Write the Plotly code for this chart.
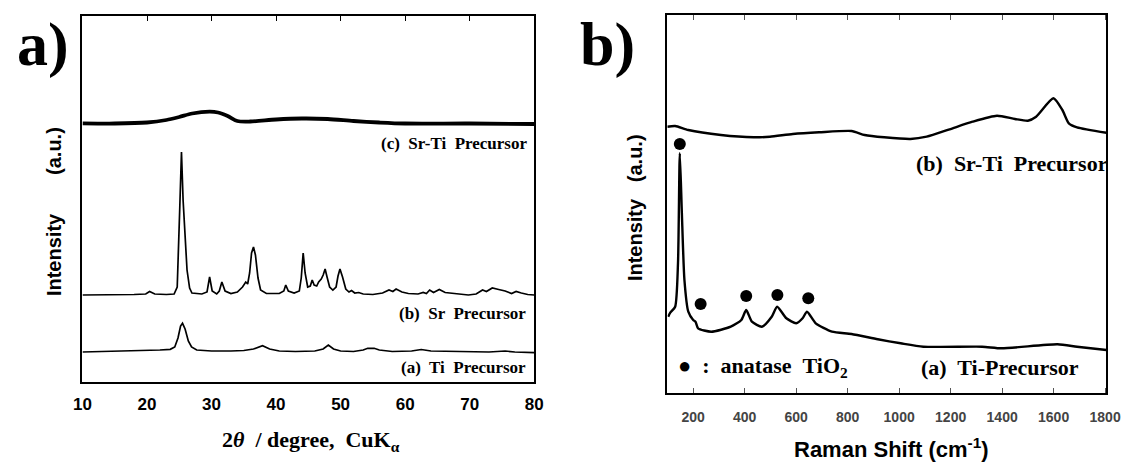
import plotly.graph_objects as go

W, H = 1140, 462

# ---------------- Panel a) XRD data (2theta in degree, intensity a.u.) ----------------
ti_2theta = [10, 14, 18, 22, 23.6, 24.3, 24.8, 25.2, 25.5, 25.9, 26.4, 26.9, 27.7, 30, 33, 35,
             36.5, 37.9, 39, 40.5, 43, 46, 47.3, 48.1, 48.9, 50, 52, 53.5, 54.2, 55.2, 56, 58,
             61, 62.5, 64, 67, 70, 73, 75.5, 77, 80]
ti_int = [31, 31.5, 32, 33, 33.7, 36, 45, 57, 59.7, 54, 42, 36, 33, 32, 32, 32.5,
          34, 37.3, 34, 32, 31.5, 32, 34, 38, 34, 32, 31.5, 33, 34.7, 34.7, 33, 31.5,
          32, 33.5, 32, 31.5, 31.5, 31, 32, 31, 30.3]

sr_2theta = [10, 14, 18, 19.8, 20.4, 21.2, 23, 24.2, 24.68, 25.08, 25.34, 25.59, 25.84, 26.2,
             26.6, 26.96, 28.5, 29.3, 29.7, 30.1, 30.8, 31.2, 31.6, 32.1, 33, 34, 34.8, 35.3,
             35.6, 35.9, 36.2, 36.5, 36.8, 37.2, 37.6, 38.5, 40.5, 41.2, 41.5, 41.9, 42.8,
             43.6, 43.9, 44.2, 44.5, 44.9, 45.3, 45.6, 45.9, 46.3, 46.6, 47.0, 47.3, 47.6,
             47.9, 48.3, 48.8, 49.3, 49.6, 49.9, 50.3, 50.8, 51.3, 51.7, 52.2, 52.8, 53.5,
             55, 56.5, 57.5, 58.1, 58.6, 59.5, 60.5, 62, 62.8, 63.3, 63.8, 64.4, 65.3, 66.2,
             67.5, 69.8, 71, 72, 72.6, 73.5, 74.5, 75.5, 76.5, 77.2, 78, 79, 80]
sr_int = [88, 88, 88.5, 89, 91.5, 89, 88.5, 89, 96, 176, 231, 183, 150, 113,
          95, 90, 89, 91, 106, 92, 89, 92, 101, 92, 89.5, 91, 96, 101,
          99, 110, 130, 136, 128, 105, 93, 89.5, 89.5, 92, 98, 92, 90,
          92, 105, 130, 110, 96, 97, 103, 98, 97, 101, 104, 108, 114,
          106, 96, 93, 96, 107, 114, 106, 94, 91, 92.5, 90, 90.5, 89,
          88.5, 90, 93, 91.5, 94, 91, 89.5, 89, 90.5, 89.5, 93, 90.5, 93.5, 90.5,
          89.5, 88, 89, 93, 91.5, 95, 93.5, 92, 89.5, 91.5, 90, 88.5, 88]

srti_2theta = [10, 15, 20, 23, 25, 27, 29.7, 31, 32.5, 34, 36, 40, 44, 48, 52, 56, 60, 70, 80]
srti_int = [259.7, 259.5, 260.5, 263, 266, 269.5, 271.3, 270.5, 267, 262, 261.5, 263.5,
            264.5, 264, 262, 260.5, 259.5, 259.5, 259]

xrd_ticks = [10, 20, 30, 40, 50, 60, 70, 80]

# ---------------- Panel b) Raman data (cm-1, intensity a.u.) ----------------
srti_raman_x = [99, 130, 181, 308, 435, 498, 587, 689, 815, 866, 942, 1044, 1107, 1196,
                1285, 1380, 1450, 1500, 1532, 1599, 1634, 1659, 1691, 1805]
srti_raman_y = [266.3, 267, 263, 258, 255.7, 256.3, 259, 260.7, 262, 258, 255.7, 254, 256.3,
                263.7, 271.3, 277.3, 274, 272.3, 276.3, 294.7, 283, 269.7, 265.7, 260.3]

ti_raman_x = [103, 111, 130, 141, 148, 156, 166, 181, 200, 209, 219, 270, 346, 387, 406, 428,
              467, 505, 526, 562, 600, 625, 642, 676, 739, 815, 917, 1006, 1094, 1322, 1398,
              1615, 1691, 1805]
ti_raman_y = [76.3, 80.3, 86.3, 130, 239.7, 180, 113, 81.3, 73, 71.3, 64.7, 61.3, 66.3, 73, 83,
              71.3, 66.3, 76.3, 86.3, 74.7, 69.7, 74.7, 81.3, 69.7, 61.3, 59, 53.7, 49.7, 46.3,
              46.3, 44.7, 48.7, 46.3, 43]

anatase_x = [148, 229, 406, 527, 647]
anatase_y = [249, 89, 97, 98, 94.7]

raman_ticks = [200, 400, 600, 800, 1000, 1200, 1400, 1600, 1800]

# ---------------- Figure ----------------
fig = go.Figure()
line_a = dict(color="black", width=1.7)
fig.add_trace(go.Scatter(x=ti_2theta, y=ti_int, mode="lines", line=line_a, xaxis="x", yaxis="y"))
fig.add_trace(go.Scatter(x=sr_2theta, y=sr_int, mode="lines", line=line_a, xaxis="x", yaxis="y"))
fig.add_trace(go.Scatter(x=srti_2theta, y=srti_int, mode="lines",
                         line=dict(color="black", width=3.8, shape="spline", smoothing=0.8),
                         xaxis="x", yaxis="y"))

line_b = dict(color="black", width=2.4, shape="spline", smoothing=0.6)
fig.add_trace(go.Scatter(x=srti_raman_x, y=srti_raman_y, mode="lines", line=line_b, xaxis="x2", yaxis="y2"))
fig.add_trace(go.Scatter(x=ti_raman_x, y=ti_raman_y, mode="lines", line=line_b, xaxis="x2", yaxis="y2"))
fig.add_trace(go.Scatter(x=anatase_x, y=anatase_y, mode="markers",
                         marker=dict(color="black", size=12), xaxis="x2", yaxis="y2"))


def px(v):
    return v / W


def py(v):
    return 1 - v / H


axis_common = dict(showline=True, linecolor="black", linewidth=1.6, showgrid=False, zeroline=False)

fig.update_layout(
    width=W, height=H,
    margin=dict(l=0, r=0, t=0, b=0),
    paper_bgcolor="white", plot_bgcolor="white",
    showlegend=False,
    xaxis=dict(domain=[px(75), px(536)], range=[10, 80], tickvals=xrd_ticks,
               ticks="", mirror=True, ticklabelstandoff=6,
               tickfont=dict(family="Liberation Sans", size=17, color="black", weight="bold"),
               anchor="y", **axis_common),
    xaxis3=dict(overlaying="x", side="top", range=[10, 80], tickvals=xrd_ticks,
                ticks="inside", ticklen=5, tickcolor="black", showticklabels=False,
                showline=False, showgrid=False, zeroline=False, anchor="y"),
    yaxis=dict(domain=[py(382), py(16)], range=[1, 367], showticklabels=False, ticks="",
               mirror=True, anchor="x", **axis_common),
    xaxis2=dict(domain=[px(672), px(1120)], range=[100, 1805], tickvals=raman_ticks,
                ticks="inside", ticklen=5, tickcolor="#555", mirror="ticks", ticklabelstandoff=10,
                tickfont=dict(family="Liberation Sans", size=14, color="#444", weight="bold"),
                anchor="y2", **axis_common),
    yaxis2=dict(domain=[py(393), py(15)], range=[0, 378], showticklabels=False, ticks="",
                mirror=True, anchor="x2", **axis_common),
)
# invisible trace so that the top tick axis of panel a renders
fig.add_trace(go.Scatter(x=[10], y=[1], mode="markers", marker=dict(opacity=0), xaxis="x3", yaxis="y",
                         hoverinfo="skip"))

serif = "Liberation Serif"
sans = "Liberation Sans"
ann = []


def add(text, x, y, size, family=serif, xanchor="center", yanchor="middle", angle=0, color="black"):
    ann.append(dict(text=text, x=px(x), y=py(y), xref="paper", yref="paper", showarrow=False,
                    xanchor=xanchor, yanchor=yanchor, textangle=angle,
                    font=dict(family=family, size=size, color=color)))


add("<b>a)</b>", 6, 44, 62, xanchor="left")
add("<b>b)</b>", 581, 44, 62, xanchor="left")
add("<b>(c)  Sr-Ti  Precursor</b>", 531, 143, 17, xanchor="right")
add("<b>(b)  Sr  Precursor</b>", 530, 313, 17, xanchor="right")
add("<b>(a)  Ti  Precursor</b>", 530, 367, 17, xanchor="right")
add("<b>2<i>θ</i>  / degree,  CuK<sub>α</sub></b>", 308, 441, 22)
add("<b>Intensity&nbsp;&nbsp;&nbsp;&nbsp;&nbsp;&nbsp;&nbsp;(a.u.)</b>", 46, 212, 20, family=sans, angle=-90)

add("<b>(b)  Sr-Ti  Precursor</b>", 1124, 163, 22, xanchor="right")
add("<b>(a)  Ti-Precursor</b>", 1094, 367, 22, xanchor="right")
add("<b>●&nbsp;&nbsp;:&nbsp;&nbsp;anatase&nbsp;&nbsp;TiO<sub>2</sub></b>", 681, 367, 22, xanchor="left")
add("<b>Raman Shift (cm<sup>-1</sup>)</b>", 901, 448, 22, family=sans)
add("<b>Intensity&nbsp;&nbsp;&nbsp;(a.u.)</b>", 639, 208, 20, family=sans, angle=-90)

fig.update_layout(annotations=ann)

fig.write_html("out.html")
